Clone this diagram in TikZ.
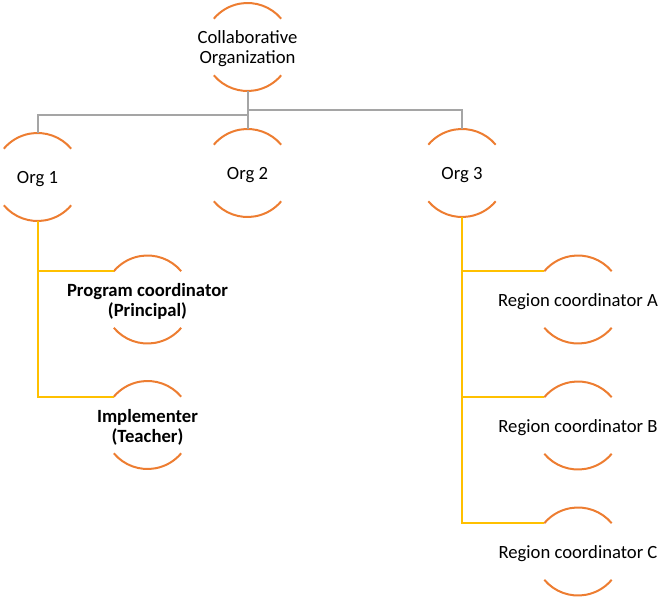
\documentclass[tikz,border=0pt]{standalone}
\usepackage{fontspec}
\setmainfont{Carlito}
\definecolor{arcorange}{HTML}{ED7D31}
\definecolor{linegrey}{HTML}{A5A5A5}
\definecolor{linegold}{HTML}{FFC000}
\tikzset{
  unit/.style={circle, minimum size=66pt, inner sep=0pt, outer sep=0pt},
  arcline/.style={draw=arcorange, line width=1.5pt},
  greyline/.style={draw=linegrey, line width=1.5pt},
  goldline/.style={draw=linegold, line width=1.5pt},
  txt/.style={align=center, yshift=-1.5pt, font=\fontsize{14}{15}\selectfont}
}
\begin{document}
\begin{tikzpicture}[x=0.75pt,y=0.75pt]
\useasboundingbox (0,0) rectangle (661,601);
% units
\node[unit, label={[txt]center:Collaborative\\Organization}] (co) at (247.5,554) {};
\node[unit, label={[txt]center:Org 1}] (org1) at (37.5,424) {};
\node[unit, label={[txt]center:Org 2}] (org2) at (247.5,428) {};
\node[unit, label={[txt]center:Org 3}] (org3) at (462,428) {};
\node[unit, label={[txt,font=\fontsize{14}{15}\selectfont\bfseries]center:Program coordinator\\(Principal)}] (pc) at (147.5,301.5) {};
\node[unit, label={[txt,font=\fontsize{14}{15}\selectfont\bfseries]center:Implementer\\(Teacher)}] (impl) at (147.5,176) {};
\node[unit, label={[txt]center:Region coordinator A}] (ra) at (578,301.5) {};
\node[unit, label={[txt]center:Region coordinator B}] (rb) at (578,175.5) {};
\node[unit, label={[txt]center:Region coordinator C}] (rc) at (578,49.5) {};
\foreach \n in {co,org1,org2,org3,pc,impl,ra,rb,rc} {
  \draw[arcline] (\n.40) arc (40:140:33pt);
  \draw[arcline] (\n.220) arc (220:320:33pt);
}
% grey links
\coordinate (busL) at (247.5,486);
\coordinate (busR) at (247.5,491);
\draw[greyline] (co.south) -- (org2.north);
\draw[greyline] (busL) -| (org1.north);
\draw[greyline] (busR) -| (org3.north);
% gold links
\draw[goldline] (org1.south) |- (impl.140);
\draw[goldline] (org1.south |- pc.140) -- (pc.140);
\draw[goldline] (org3.south) |- (rc.140);
\draw[goldline] (org3.south |- ra.140) -- (ra.140);
\draw[goldline] (org3.south |- rb.140) -- (rb.140);
\end{tikzpicture}
\end{document}
